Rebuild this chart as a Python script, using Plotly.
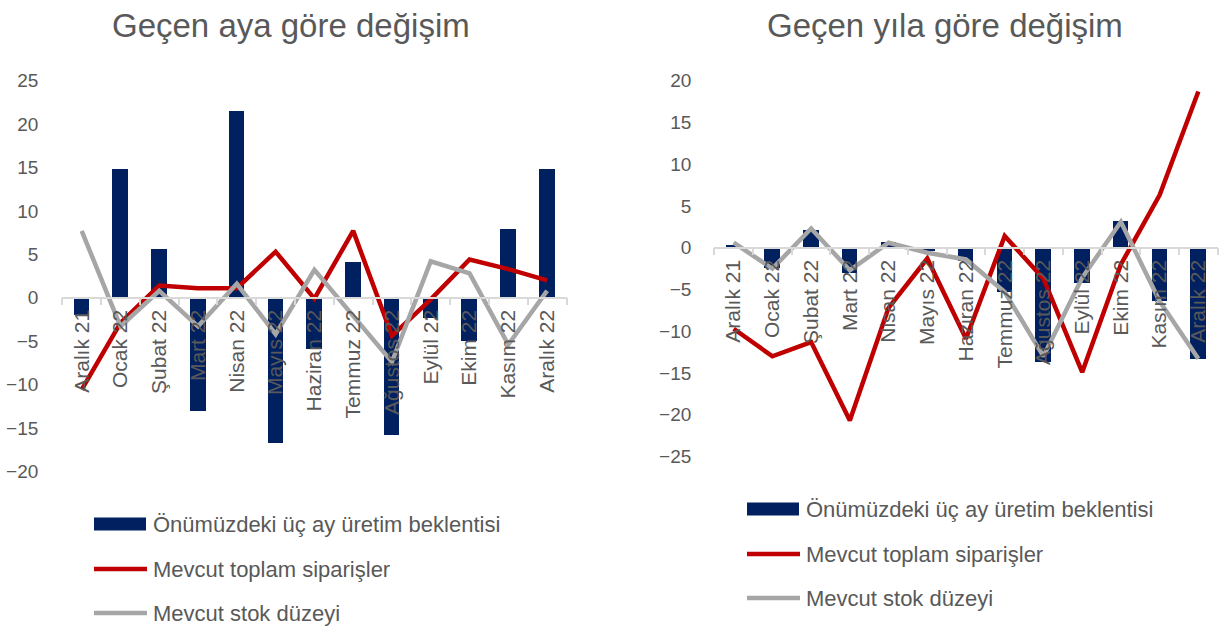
import plotly.graph_objects as go

# ---------------- data ----------------
categories = ["Aralık 21", "Ocak 22", "Şubat 22", "Mart 22", "Nisan 22", "Mayıs 22",
              "Haziran 22", "Temmuz 22", "Ağustos 22", "Eylül 22", "Ekim 22",
              "Kasım 22", "Aralık 22"]

# Geçen aya göre değişim
monthly_production = [-2.0, 14.9, 5.6, -13.0, 21.6, -16.7, -5.9, 4.2, -15.8, -2.3, -4.9, 7.9, 14.9]
monthly_orders = [-10.6, -2.9, 1.4, 1.1, 1.1, 5.3, -0.1, 7.7, -4.4, -0.2, 4.4, 3.3, 2.0]
monthly_stock = [7.7, -3.3, 0.8, -3.3, 1.6, -4.2, 3.2, -2.0, -7.4, 4.2, 2.8, -5.4, 0.8]

# Geçen yıla göre değişim
yearly_production = [0.4, -2.4, 2.2, -3.0, 0.7, -0.4, -1.6, -5.3, -13.6, -4.2, 3.2, -6.3, -13.3]
yearly_orders = [-9.7, -13.0, -11.3, -20.7, -7.2, -1.3, -10.9, 1.4, -3.7, -14.9, -2.0, 6.3, 18.7]
yearly_stock = [0.6, -2.5, 2.3, -2.7, 0.6, -0.6, -1.4, -5.3, -13.0, -3.6, 3.1, -6.4, -13.3]

left_range = [-20, 25]
right_range = [-25, 20]
tick_step = 5

titles = ["Geçen aya göre değişim", "Geçen yıla göre değişim"]
series_names = ["Önümüzdeki üç ay üretim beklentisi", "Mevcut toplam siparişler", "Mevcut stok düzeyi"]

# ---------------- style ----------------
W, H = 1221, 630
NAVY = "#002060"
RED = "#C00000"
GRAY = "#A6A6A6"
TXT = "#595959"
AXIS = "#D9D9D9"
FONT = "Liberation Sans"


def fx(p):
    return p / W


def fy(p):
    return 1 - p / H


panels = [
    dict(bars=monthly_production, orders=monthly_orders, stock=monthly_stock, rng=left_range,
         xdom=[fx(62.3), fx(566.5)], ydom=[fy(471.3), fy(80.7)], xa="x", ya="y",
         title=titles[0], title_x=291, leg_x=94, leg_rows=[524, 569, 613], standoff=23),
    dict(bars=yearly_production, orders=yearly_orders, stock=yearly_stock, rng=right_range,
         xdom=[fx(714.3), fx(1217.7)], ydom=[fy(456.5), fy(80.7)], xa="x2", ya="y2",
         title=titles[1], title_x=945, leg_x=747, leg_rows=[509, 554, 598], standoff=22),
]

fig = go.Figure()
shapes = []
annotations = []
layout_axes = {}

for i, p in enumerate(panels):
    fig.add_trace(go.Bar(x=categories, y=p["bars"], marker=dict(color=NAVY, line=dict(width=0)),
                         width=0.4, xaxis=p["xa"], yaxis=p["ya"], showlegend=False,
                         name=series_names[0]))
    fig.add_trace(go.Scatter(x=categories, y=p["orders"], mode="lines",
                             line=dict(color=RED, width=4.5), xaxis=p["xa"], yaxis=p["ya"],
                             showlegend=False, name=series_names[1]))
    fig.add_trace(go.Scatter(x=categories, y=p["stock"], mode="lines",
                             line=dict(color=GRAY, width=4.5), xaxis=p["xa"], yaxis=p["ya"],
                             showlegend=False, name=series_names[2]))

    lo, hi = p["rng"]
    zero_pos = p["ydom"][0] + (0 - lo) / (hi - lo) * (p["ydom"][1] - p["ydom"][0])
    xkey = "xaxis" if p["xa"] == "x" else "xaxis2"
    ykey = "yaxis" if p["ya"] == "y" else "yaxis2"
    layout_axes[xkey] = dict(
        domain=p["xdom"], anchor="free", position=zero_pos, type="category",
        showline=True, linecolor=AXIS, linewidth=1.5,
        ticks="outside", tickson="boundaries", ticklen=7, tickcolor=AXIS, tickwidth=1.5,
        tickangle=-90, tickfont=dict(family=FONT, size=21, color=TXT),
        ticklabelstandoff=3, showgrid=False, zeroline=False, automargin=False,
    )
    layout_axes[ykey] = dict(
        domain=p["ydom"], anchor=p["xa"], range=[lo, hi], dtick=tick_step, tick0=0,
        showline=False, showgrid=False, zeroline=False, ticks="",
        tickfont=dict(family=FONT, size=19, color=TXT), ticklabelstandoff=p["standoff"],
        automargin=False,
    )

    # title
    annotations.append(dict(text=p["title"], x=fx(p["title_x"]), y=fy(26), xref="paper", yref="paper",
                            xanchor="center", yanchor="middle", showarrow=False,
                            font=dict(family=FONT, size=33, color=TXT)))

    # manual legend
    lx = p["leg_x"]
    r0, r1, r2 = p["leg_rows"]
    shapes.append(dict(type="rect", xref="paper", yref="paper", x0=fx(lx), x1=fx(lx + 52),
                       y0=fy(r0 + 6.5), y1=fy(r0 - 6.5), fillcolor=NAVY, line=dict(width=0)))
    shapes.append(dict(type="line", xref="paper", yref="paper", x0=fx(lx), x1=fx(lx + 53),
                       y0=fy(r1), y1=fy(r1), line=dict(color=RED, width=4.5)))
    shapes.append(dict(type="line", xref="paper", yref="paper", x0=fx(lx), x1=fx(lx + 53),
                       y0=fy(r2), y1=fy(r2), line=dict(color=GRAY, width=4.5)))
    for name, row in zip(series_names, p["leg_rows"]):
        annotations.append(dict(text=name, x=fx(lx + 57), y=fy(row), xref="paper", yref="paper",
                                xanchor="left", yanchor="middle", showarrow=False,
                                font=dict(family=FONT, size=22, color=TXT)))

fig.update_layout(
    template="none",
    width=W, height=H, autosize=False,
    margin=dict(l=0, r=0, t=0, b=0, pad=0),
    paper_bgcolor="white", plot_bgcolor="rgba(0,0,0,0)",
    bargap=0, barmode="overlay",
    showlegend=False, hovermode=False,
    shapes=shapes, annotations=annotations,
    **layout_axes,
)

fig.write_html(
    "out.html",
    config={"displayModeBar": False},
    post_script="document.body.style.margin='0';document.body.style.padding='0';",
)
